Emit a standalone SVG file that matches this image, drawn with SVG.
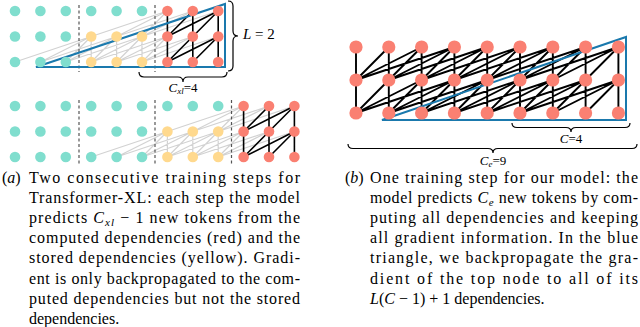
<svg xmlns="http://www.w3.org/2000/svg" width="640" height="327" viewBox="0 0 640 327">
<style>
.t{fill:#80dece}.y{fill:#ffd98e}.r{fill:#fa8072}
.g{stroke:#d2d2d2;stroke-width:1.2;fill:none}
.k{stroke:#000;stroke-width:1.6;fill:none}
.k2{stroke:#000;stroke-width:1.9;fill:none}
.tri{stroke:#1a79ad;stroke-width:2;fill:none;stroke-linejoin:miter}
.dash{stroke:#555;stroke-width:1.2;stroke-dasharray:3 2.5}
.brace{stroke:#000;stroke-width:1.2;fill:none}
.lab{font-family:"Liberation Serif",serif;font-size:13px;fill:#000}
.cap{font-family:"Liberation Serif",serif;font-size:16px;fill:#000}
.it{font-style:italic}
</style>
<rect width="640" height="327" fill="#fff"/>

<!-- ===== (a) top: step 1 ===== -->
<g id="a1-connectors">
<path class="g" d="M91.2 36.5L15 62M91.2 36.5L40.4 62M91.2 36.5L65.8 62M91.2 36.5L91.2 62
M116.6 36.5L40.4 62M116.6 36.5L65.8 62M116.6 36.5L91.2 62M116.6 36.5L116.6 62
M142 36.5L65.8 62M142 36.5L91.2 62M142 36.5L116.6 62M142 36.5L142 62
M167.4 36.5L91.2 62M167.4 36.5L116.6 62M167.4 36.5L142 62
M192.8 36.5L116.6 62M192.8 36.5L142 62
M218.2 36.5L142 62
M167.4 11L91.2 36.5M167.4 11L116.6 36.5M167.4 11L142 36.5
M192.8 11L116.6 36.5M192.8 11L142 36.5
M218.2 11L142 36.5"/>
<path class="k" d="M167.4 36.5L167.4 62
M192.8 36.5L167.4 62M192.8 36.5L192.8 62
M218.2 36.5L167.4 62M218.2 36.5L192.8 62M218.2 36.5L218.2 62
M167.4 11L167.4 36.5
M192.8 11L167.4 36.5M192.8 11L192.8 36.5
M218.2 11L167.4 36.5M218.2 11L192.8 36.5M218.2 11L218.2 36.5"/>
<line class="dash" x1="79" y1="5" x2="79" y2="72"/>
<line class="dash" x1="155" y1="5" x2="155" y2="72"/>
<path class="tri" d="M36 67L225 67L225 4Z"/>
</g>
<g id="a1-nodes">
<g class="t">
<circle cx="15" cy="11" r="5.3"/><circle cx="40.4" cy="11" r="5.3"/><circle cx="65.8" cy="11" r="5.3"/>
<circle cx="91.2" cy="11" r="5.3"/><circle cx="116.6" cy="11" r="5.3"/><circle cx="142" cy="11" r="5.3"/>
<circle cx="15" cy="36.5" r="5.3"/><circle cx="40.4" cy="36.5" r="5.3"/><circle cx="65.8" cy="36.5" r="5.3"/>
<circle cx="15" cy="62" r="5.3"/><circle cx="40.4" cy="62" r="5.3"/><circle cx="65.8" cy="62" r="5.3"/>
</g>
<g class="y">
<circle cx="91.2" cy="36.5" r="5.3"/><circle cx="116.6" cy="36.5" r="5.3"/><circle cx="142" cy="36.5" r="5.3"/>
<circle cx="91.2" cy="62" r="5.3"/><circle cx="116.6" cy="62" r="5.3"/><circle cx="142" cy="62" r="5.3"/>
</g>
<g class="r">
<circle cx="167.4" cy="11" r="5.3"/><circle cx="192.8" cy="11" r="5.3"/><circle cx="218.2" cy="11" r="5.3"/>
<circle cx="167.4" cy="36.5" r="5.3"/><circle cx="192.8" cy="36.5" r="5.3"/><circle cx="218.2" cy="36.5" r="5.3"/>
<circle cx="167.4" cy="62" r="5.3"/><circle cx="192.8" cy="62" r="5.3"/><circle cx="218.2" cy="62" r="5.3"/>
</g>
</g>
<g id="a1-braces">
<path class="brace" d="M228 1Q233 1 233 6L233 31Q233 36 238 36Q233 36 233 41L233 66Q233 71 228 71"/>
<text class="lab" x="243" y="39" style="font-size:15px"><tspan class="it">L</tspan> = 2</text>
<path class="brace" d="M139 72Q139 77 144 77L178 77Q183 77 183 82Q183 77 188 77L222 77Q227 77 227 72"/>
<text class="lab" x="183" y="92" text-anchor="middle"><tspan class="it">C</tspan><tspan class="it" font-size="9" dy="2">xl</tspan><tspan dy="-2">=4</tspan></text>
</g>

<!-- ===== (a) bottom: step 2 ===== -->
<g id="a2-connectors">
<path class="g" d="M167.4 131.5L91.2 157M167.4 131.5L116.6 157M167.4 131.5L142 157M167.4 131.5L167.4 157
M192.8 131.5L116.6 157M192.8 131.5L142 157M192.8 131.5L167.4 157M192.8 131.5L192.8 157
M218.2 131.5L142 157M218.2 131.5L167.4 157M218.2 131.5L192.8 157M218.2 131.5L218.2 157
M243.6 131.5L167.4 157M243.6 131.5L192.8 157M243.6 131.5L218.2 157
M269 131.5L192.8 157M269 131.5L218.2 157
M294.4 131.5L218.2 157
M243.6 106L167.4 131.5M243.6 106L192.8 131.5M243.6 106L218.2 131.5
M269 106L192.8 131.5M269 106L218.2 131.5
M294.4 106L218.2 131.5"/>
<path class="k" d="M243.6 131.5L243.6 157
M269 131.5L243.6 157M269 131.5L269 157
M294.4 131.5L243.6 157M294.4 131.5L269 157M294.4 131.5L294.4 157
M243.6 106L243.6 131.5
M269 106L243.6 131.5M269 106L269 131.5
M294.4 106L243.6 131.5M294.4 106L269 131.5M294.4 106L294.4 131.5"/>
<line class="dash" x1="79" y1="100" x2="79" y2="166"/>
<line class="dash" x1="155" y1="100" x2="155" y2="166"/>
<line class="dash" x1="231.5" y1="100" x2="231.5" y2="166"/>
</g>
<g id="a2-nodes">
<g class="t">
<circle cx="15" cy="106" r="5.3"/><circle cx="40.4" cy="106" r="5.3"/><circle cx="65.8" cy="106" r="5.3"/>
<circle cx="91.2" cy="106" r="5.3"/><circle cx="116.6" cy="106" r="5.3"/><circle cx="142" cy="106" r="5.3"/>
<circle cx="167.4" cy="106" r="5.3"/><circle cx="192.8" cy="106" r="5.3"/><circle cx="218.2" cy="106" r="5.3"/>
<circle cx="15" cy="131.5" r="5.3"/><circle cx="40.4" cy="131.5" r="5.3"/><circle cx="65.8" cy="131.5" r="5.3"/>
<circle cx="91.2" cy="131.5" r="5.3"/><circle cx="116.6" cy="131.5" r="5.3"/><circle cx="142" cy="131.5" r="5.3"/>
<circle cx="15" cy="157" r="5.3"/><circle cx="40.4" cy="157" r="5.3"/><circle cx="65.8" cy="157" r="5.3"/>
<circle cx="91.2" cy="157" r="5.3"/><circle cx="116.6" cy="157" r="5.3"/><circle cx="142" cy="157" r="5.3"/>
</g>
<g class="y">
<circle cx="167.4" cy="131.5" r="5.3"/><circle cx="192.8" cy="131.5" r="5.3"/><circle cx="218.2" cy="131.5" r="5.3"/>
<circle cx="167.4" cy="157" r="5.3"/><circle cx="192.8" cy="157" r="5.3"/><circle cx="218.2" cy="157" r="5.3"/>
</g>
<g class="r">
<circle cx="243.6" cy="106" r="5.3"/><circle cx="269" cy="106" r="5.3"/><circle cx="294.4" cy="106" r="5.3"/>
<circle cx="243.6" cy="131.5" r="5.3"/><circle cx="269" cy="131.5" r="5.3"/><circle cx="294.4" cy="131.5" r="5.3"/>
<circle cx="243.6" cy="157" r="5.3"/><circle cx="269" cy="157" r="5.3"/><circle cx="294.4" cy="157" r="5.3"/>
</g>
</g>

<!-- ===== (b) ===== -->
<g id="b-connectors">
<path class="k2" d="M356 80L356 113
M388.8 80L356 113M388.8 80L388.8 113
M421.6 80L356 113M421.6 80L388.8 113M421.6 80L421.6 113
M454.4 80L356 113M454.4 80L388.8 113M454.4 80L421.6 113M454.4 80L454.4 113
M487.2 80L388.8 113M487.2 80L421.6 113M487.2 80L454.4 113M487.2 80L487.2 113
M520 80L421.6 113M520 80L454.4 113M520 80L487.2 113M520 80L520 113
M552.8 80L454.4 113M552.8 80L487.2 113M552.8 80L520 113M552.8 80L552.8 113
M585.6 80L487.2 113M585.6 80L520 113M585.6 80L552.8 113M585.6 80L585.6 113
M618.4 80L520 113M618.4 80L552.8 113M618.4 80L585.6 113M618.4 80L618.4 113
M356 47L356 80
M388.8 47L356 80M388.8 47L388.8 80
M421.6 47L356 80M421.6 47L388.8 80M421.6 47L421.6 80
M454.4 47L356 80M454.4 47L388.8 80M454.4 47L421.6 80M454.4 47L454.4 80
M487.2 47L388.8 80M487.2 47L421.6 80M487.2 47L454.4 80M487.2 47L487.2 80
M520 47L421.6 80M520 47L454.4 80M520 47L487.2 80M520 47L520 80
M552.8 47L454.4 80M552.8 47L487.2 80M552.8 47L520 80M552.8 47L552.8 80
M585.6 47L487.2 80M585.6 47L520 80M585.6 47L552.8 80M585.6 47L585.6 80
M618.4 47L520 80M618.4 47L552.8 80M618.4 47L585.6 80M618.4 47L618.4 80"/>
<path class="tri" d="M382 120L626 120L626 37Z"/>
</g>
<g id="b-nodes" class="r">
<circle cx="356" cy="47" r="6.6"/><circle cx="388.8" cy="47" r="6.6"/><circle cx="421.6" cy="47" r="6.6"/>
<circle cx="454.4" cy="47" r="6.6"/><circle cx="487.2" cy="47" r="6.6"/><circle cx="520" cy="47" r="6.6"/>
<circle cx="552.8" cy="47" r="6.6"/><circle cx="585.6" cy="47" r="6.6"/><circle cx="618.4" cy="47" r="6.6"/>
<circle cx="356" cy="80" r="6.6"/><circle cx="388.8" cy="80" r="6.6"/><circle cx="421.6" cy="80" r="6.6"/>
<circle cx="454.4" cy="80" r="6.6"/><circle cx="487.2" cy="80" r="6.6"/><circle cx="520" cy="80" r="6.6"/>
<circle cx="552.8" cy="80" r="6.6"/><circle cx="585.6" cy="80" r="6.6"/><circle cx="618.4" cy="80" r="6.6"/>
<circle cx="356" cy="113" r="6.6"/><circle cx="388.8" cy="113" r="6.6"/><circle cx="421.6" cy="113" r="6.6"/>
<circle cx="454.4" cy="113" r="6.6"/><circle cx="487.2" cy="113" r="6.6"/><circle cx="520" cy="113" r="6.6"/>
<circle cx="552.8" cy="113" r="6.6"/><circle cx="585.6" cy="113" r="6.6"/><circle cx="618.4" cy="113" r="6.6"/>
</g>
<g id="b-braces">
<path class="brace" d="M512 123Q512 127.5 517 127.5L566 127.5Q571 127.5 571 132Q571 127.5 576 127.5L625 127.5Q630 127.5 630 123"/>
<text class="lab" x="571" y="143" text-anchor="middle"><tspan class="it">C</tspan>=4</text>
<path class="brace" d="M348 144Q348 148.5 353 148.5L488 148.5Q493 148.5 493 153Q493 148.5 498 148.5L632 148.5Q637 148.5 637 144"/>
<text class="lab" x="493" y="165" text-anchor="middle"><tspan class="it">C</tspan><tspan class="it" font-size="9" dy="2">e</tspan><tspan dy="-2">=9</tspan></text>
</g>

<!-- ===== captions ===== -->
<g id="caption-a" class="cap">
<text x="2" y="182.5">(<tspan class="it">a</tspan>)</text>
<text x="29" y="182.5" textLength="271" lengthAdjust="spacing">Two consecutive training steps for</text>
<text x="29" y="202.7" textLength="271" lengthAdjust="spacing">Transformer-XL: each step the model</text>
<text x="29" y="222.9" textLength="271" lengthAdjust="spacing">predicts <tspan class="it">C</tspan><tspan class="it" font-size="11" dy="3">xl</tspan><tspan dy="-3"> − 1 new tokens from the</tspan></text>
<text x="29" y="243.1" textLength="271" lengthAdjust="spacing">computed dependencies (red) and the</text>
<text x="29" y="263.3" textLength="271" lengthAdjust="spacing">stored dependencies (yellow).  Gradi-</text>
<text x="29" y="283.5" textLength="271" lengthAdjust="spacing">ent is only backpropagated to the com-</text>
<text x="29" y="303.7" textLength="271" lengthAdjust="spacing">puted dependencies but not the stored</text>
<text x="29" y="323.9">dependencies.</text>
</g>
<g id="caption-b" class="cap">
<text x="345" y="182.5">(<tspan class="it">b</tspan>)</text>
<text x="370" y="182.5" textLength="268" lengthAdjust="spacing">One training step for our model: the</text>
<text x="370" y="202.7" textLength="268" lengthAdjust="spacing">model predicts <tspan class="it">C</tspan><tspan class="it" font-size="11" dy="3">e</tspan><tspan dy="-3"> new tokens by com-</tspan></text>
<text x="370" y="222.9" textLength="268" lengthAdjust="spacing">puting all dependencies and keeping</text>
<text x="370" y="243.1" textLength="268" lengthAdjust="spacing">all gradient information.  In the blue</text>
<text x="370" y="263.3" textLength="268" lengthAdjust="spacing">triangle, we backpropagate the gra-</text>
<text x="370" y="283.5" textLength="268" lengthAdjust="spacing">dient of the top node to all of its</text>
<text x="370" y="303.7"><tspan class="it">L</tspan>(<tspan class="it">C</tspan> − 1) + 1 dependencies.</text>
</g>
</svg>
